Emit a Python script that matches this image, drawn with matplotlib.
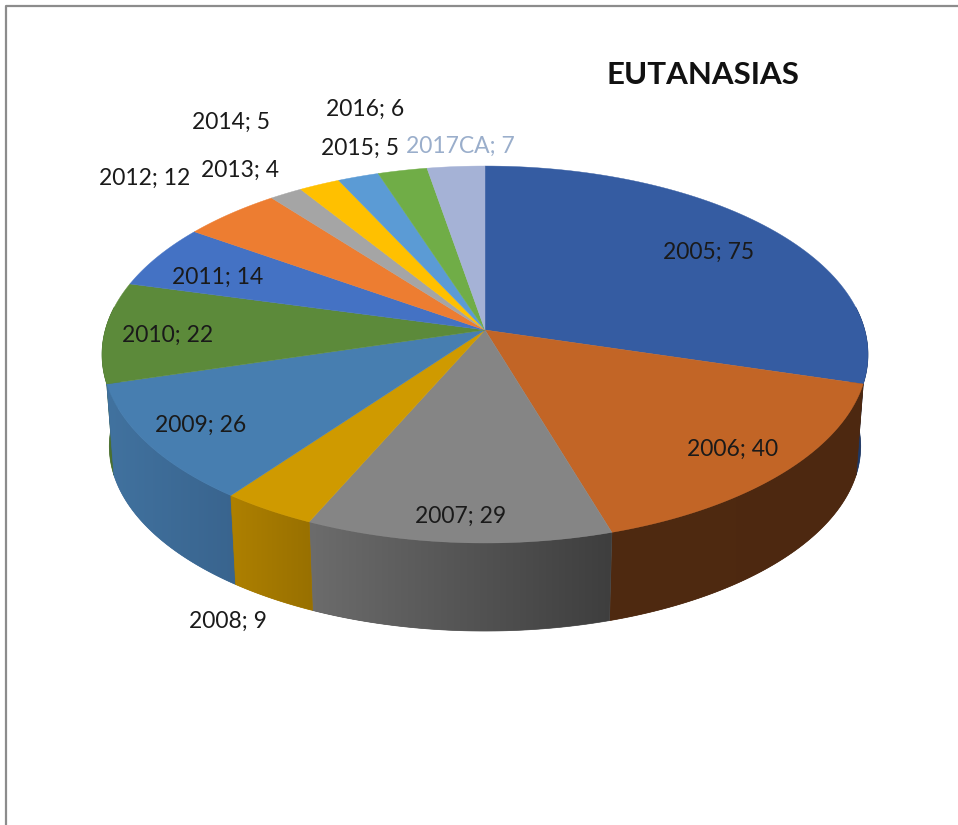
import numpy as np
import matplotlib
matplotlib.use('Agg')
import matplotlib.pyplot as plt
from matplotlib.colors import to_rgb

plt.rcParams['font.family'] = ['Lato', 'DejaVu Sans']

years = ['2005', '2006', '2007', '2008', '2009', '2010', '2011', '2012', '2013', '2014', '2015', '2016', '2017CA']
values = [75, 40, 29, 9, 26, 22, 14, 12, 4, 5, 5, 6, 7]

top_colors = ['#355ca2', '#c26526', '#858585', '#cf9a00', '#477eb0', '#5c8a3a', '#4472c4',
              '#ed7d31', '#a5a5a5', '#ffc000', '#5b9bd5', '#70ad47', '#a5b2d6']
# side wall colours, start and end of each visible slice
wall_colors = {
    0: ('#1f3864', '#1f3864'),
    1: ('#4d2810', '#4f2a10'),
    2: ('#3e3e3e', '#6c6c6c'),
    3: ('#987000', '#ae8000'),
    4: ('#39648e', '#41729f'),
    5: ('#4a7030', '#4a7030'),
}

label_xy = [(709, 252), (733, 449), (461, 516), (228, 621), (201, 425), (168, 335), (218, 277),
            (145, 178), (240, 170), (231, 122), (360, 148), (365, 109), (460, 146)]


# pie is a tilted disc, so project the circle with a bit of perspective
def project(theta, cy, a, b, k=0.13, cx=485):
    x = np.sin(theta)
    y = np.cos(theta)
    d = 1 + k * y
    return cx + b * x / d, cy - a * y / d


def top(theta):
    return project(theta, 330, 185.3, 379.7)


def bottom(theta):
    return project(theta, 422.3, 181.6, 372.5)


fig = plt.figure(figsize=(9.58, 8.25), dpi=100)
ax = fig.add_axes([0, 0, 1, 1])
ax.set_xlim(0, 958)
ax.set_ylim(825, 0)
ax.axis('off')

# frame of the chart, cut by the image on right and bottom
ax.plot([6.5, 6.5, 958], [825, 5.5, 5.5], color='#8c8c8c', lw=1.6, solid_capstyle='butt')

edges = np.cumsum([0] + values) / sum(values) * 2 * np.pi

# walls first, far ones first so the front ones sit on top
for i in [0, 5, 1, 4, 2, 3]:
    t0, t1 = edges[i], edges[i + 1]
    # only the front half of the disc shows a wall
    t0 = max(t0, np.pi * 0.46)
    t1 = min(t1, np.pi * 1.54)
    c0 = np.array(to_rgb(wall_colors[i][0]))
    c1 = np.array(to_rgb(wall_colors[i][1]))
    ts = np.linspace(t0, t1, 80)
    xa, ya = top(ts)
    xb, yb = bottom(ts)
    px = np.r_[xa, xb[::-1]]
    py = np.r_[ya, yb[::-1]]
    mid = (c0 + c1) / 2
    poly = ax.fill(px, py, facecolor=mid, edgecolor=mid, lw=0.5)[0]
    # gradient runs across x, t goes from right to left along the front
    frac = np.linspace(0, 1, 256)[None, :, None]
    grad = c0[None, None, :] * frac + c1[None, None, :] * (1 - frac)
    im = ax.imshow(grad, extent=(px.min(), px.max(), py.max(), py.min()), aspect='auto',
                   interpolation='bilinear', zorder=poly.get_zorder())
    im.set_clip_path(poly)

ax.set_xlim(0, 958)
ax.set_ylim(825, 0)

# top of the disc
for i in range(len(values)):
    ts = np.linspace(edges[i], edges[i + 1], 80)
    x, y = top(ts)
    ax.fill(np.r_[485, x], np.r_[330, y], facecolor=top_colors[i], edgecolor=top_colors[i], lw=0.3, zorder=2)

for i, (year, val) in enumerate(zip(years, values)):
    col = '#9aaecb' if year == '2017CA' else '#1a1a1a'
    ax.text(label_xy[i][0], label_xy[i][1], f'{year}; {val}', ha='center', va='center',
            fontsize=16.5, color=col, zorder=3)

ax.text(702.5, 75, 'EUTANASIAS', ha='center', va='center', fontsize=22.5, fontweight='bold', color='#111111', zorder=3)

fig.savefig('out.png', dpi=100, facecolor='white')
